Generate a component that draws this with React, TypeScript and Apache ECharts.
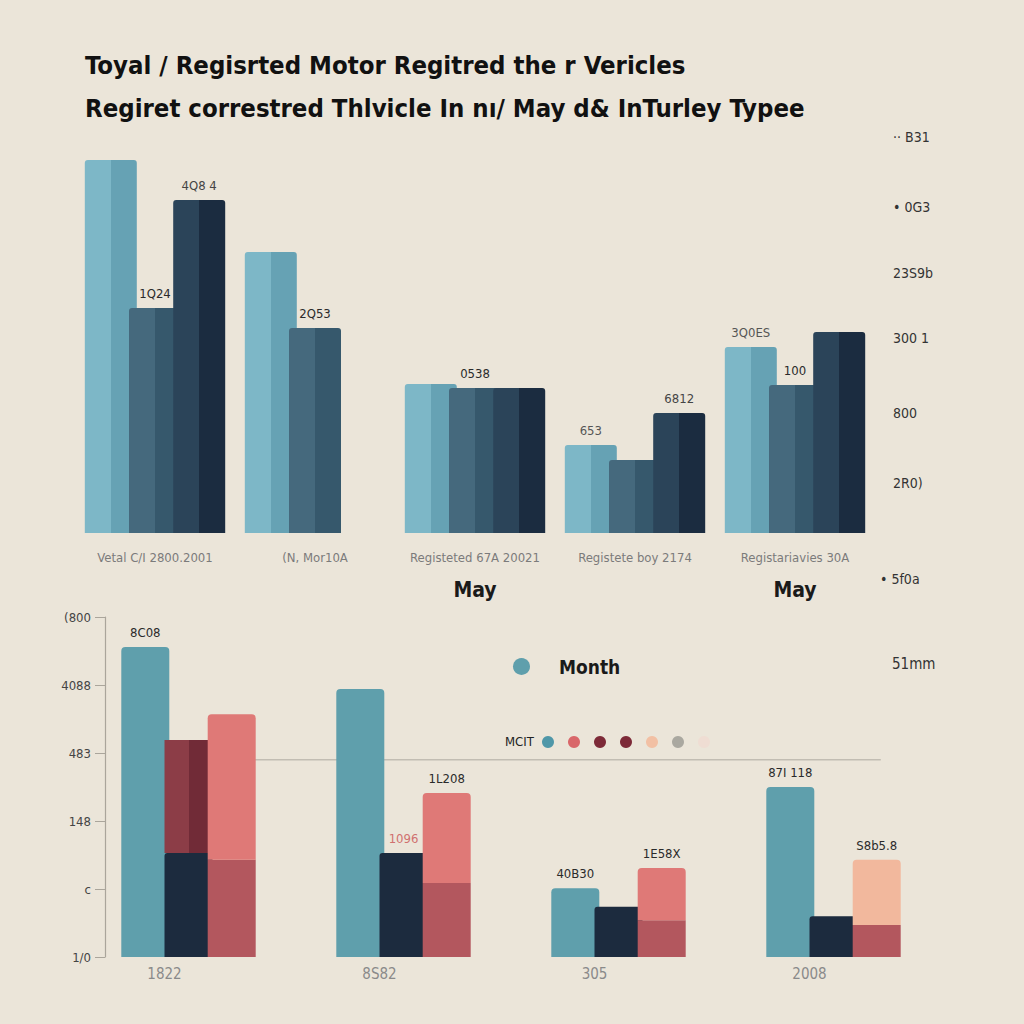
import React, { useEffect, useRef } from "react";
import * as echarts from "echarts";

// ---------- data ----------
const titleText =
  "Toyal / Regisrted Motor Regitred the r Vericles\nRegiret correstred Thlvicle In nı/ May d& InTurley Typee";

const topCategories = [
  "Vetal C/I 2800.2001",
  "(N, Mor10A",
  "Registeted 67A 20021",
  "Registete boy 2174",
  "Registariavies 30A",
];
const topSubLabels = ["", "", "May", "", "May"];
const topSeriesA = [373, 281, 149, 88, 186];
const topSeriesB = [225, 205, 145, 73, 148];
const topSeriesC: (number | null)[] = [333, null, 145, 120, 201];
const topLabelsA = ["", "", "", "653", "3Q0ES"];
const topLabelsB = ["1Q24", "2Q53", "0538", "", "100"];
const topLabelsC = ["4Q8 4", "", "", "6812", ""];
const topTickValues = [50, 120, 195, 260, 326, 396];
const topTickLabels = ["2R0)", "800", "300 1", "23S9b", "• 0G3", "·· B31"];

const bottomCategories = ["1822", "8S82", "305", "2008"];
const bottomTickLabels = ["1/0", "c", "148", "483", "4088", "(800"];
const monthTeal = [4.56, 3.94, 1.01, 2.5];
const navyBase = [1.53, 1.53, 0.74, 0.6];
const darkRedTop = [1.66, 0, 0, 0];
const roseBase = [1.43, 1.09, 0.54, 0.47];
const roseTop = [2.14, 1.32, 0.77, 0.96];
const bottomLabelsTeal = ["8C08", "", "40B30", "87I 118"];
const bottomLabelsNavy = ["", "1096", "", ""];
const bottomLabelsRose = ["", "1L208", "1E58X", "S8b5.8"];
const referenceLevel = 2.9;
const referenceSpan = [0.2, 0.93]; // fraction of the lower plot width

const legendDots = ["#4f97a8", "#d9676a", "#7d2a38", "#7d2a38", "#f2c0a4", "#aaa8a0", "#efddd3"];
const sideNotes = ["• 5f0a", "51mm"];

// ---------- helpers ----------
const split = (light: string, dark: string) =>
  new echarts.graphic.LinearGradient(0, 0, 1, 0, [
    { offset: 0, color: light },
    { offset: 0.5, color: light },
    { offset: 0.5, color: dark },
    { offset: 1, color: dark },
  ]);

const withLabels = (vals: (number | null)[], labels: string[], color = "#2a2a2a") =>
  vals.map((v, i) => ({
    value: v,
    label: labels[i]
      ? { show: true, formatter: labels[i], color, fontSize: 13, position: "top", distance: 8 }
      : { show: false },
  }));

export default function App() {
  const ref = useRef<HTMLDivElement>(null);

  useEffect(() => {
    document.body.style.margin = "0";
    const chart = echarts.init(ref.current!, undefined, { renderer: "svg" });
    const font = "'Liberation Sans Narrow', 'DejaVu Sans Condensed', 'Liberation Sans', sans-serif";

    const graphics: any[] = [
      {
        type: "text",
        left: 505,
        top: 735,
        style: { text: "MCIT", fill: "#222", font: `13px ${font}` },
      },
      ...legendDots.map((c, i) => ({
        type: "circle",
        left: 542 + i * 26,
        top: 736,
        shape: { r: 6 },
        style: { fill: c },
      })),
      {
        type: "text",
        left: 880,
        top: 572,
        style: { text: sideNotes[0], fill: "#333", font: `14px ${font}` },
      },
      {
        type: "text",
        left: 892,
        top: 656,
        style: { text: sideNotes[1], fill: "#333", font: `15px ${font}` },
      },
    ];

    chart.setOption({
      animation: false,
      backgroundColor: "#ebe5d9",
      textStyle: { fontFamily: font },
      title: {
        text: titleText,
        left: 80,
        top: 38,
        textStyle: {
          fontSize: 25.5,
          fontWeight: "bold",
          color: "#111",
          lineHeight: 43,
          fontFamily: font,
        },
      },
      legend: {
        data: ["Month"],
        left: 508,
        top: 652,
        icon: "circle",
        itemWidth: 17,
        itemHeight: 17,
        textStyle: { fontSize: 19, fontWeight: "bold", color: "#1a1a1a", padding: [0, 0, 0, 24] },
      },
      grid: [
        { left: 75, top: 133, width: 800, height: 400 },
        { left: 81, top: 617, width: 860, height: 340 },
      ],
      xAxis: [
        {
          type: "category",
          gridIndex: 0,
          data: topCategories,
          axisLine: { show: false },
          axisTick: { show: false },
          axisLabel: {
            interval: 0,
            margin: 16,
            formatter: (v: string, i: number) =>
              topSubLabels[i] ? `{base|${v}}\n{may|${topSubLabels[i]}}` : `{base|${v}}`,
            rich: {
              base: { color: "#7b7b7b", fontSize: 13, lineHeight: 16, fontFamily: font },
              may: { color: "#1a1a1a", fontSize: 21, fontWeight: "bold", lineHeight: 50, fontFamily: font },
            },
          },
        },
        {
          type: "category",
          gridIndex: 1,
          data: bottomCategories,
          axisLine: { show: false },
          axisTick: { show: false },
          axisLabel: { color: "#8a8a8a", fontSize: 15, margin: 9, padding: [0, 48, 0, 0] },
        },
        {
          type: "value",
          gridIndex: 1,
          min: 0,
          max: 1,
          show: false,
        },
      ],
      yAxis: [
        {
          type: "value",
          gridIndex: 0,
          position: "right",
          min: 0,
          max: 400,
          splitLine: { show: false },
          axisLine: { show: false },
          axisTick: { show: false },
          axisLabel: {
            customValues: topTickValues,
            margin: 18,
            color: "#333",
            fontSize: 14,
            formatter: (v: number) => {
              const k = topTickValues.indexOf(v);
              return k >= 0 ? topTickLabels[k] : "";
            },
          },
        },
        {
          type: "value",
          gridIndex: 1,
          min: 0,
          max: 5,
          interval: 1,
          offset: -24,
          splitLine: { show: false },
          axisLine: { show: true, lineStyle: { color: "#aaa59b", width: 1.2 } },
          axisTick: { show: true, length: 10, lineStyle: { color: "#aaa59b" } },
          axisLabel: {
            color: "#444",
            fontSize: 13,
            margin: 14,
            formatter: (v: number) => bottomTickLabels[Math.round(v)] ?? "",
          },
        },
      ],
      series: [
        // ---- top chart ----
        {
          name: "A",
          type: "bar",
          xAxisIndex: 0,
          yAxisIndex: 0,
          barWidth: 52,
          barGap: "-15%",
          itemStyle: { color: split("#7db7c7", "#66a2b4"), borderRadius: [3, 3, 0, 0] },
          data: withLabels(topSeriesA, topLabelsA, "#555"),
        },
        {
          name: "B",
          type: "bar",
          xAxisIndex: 0,
          yAxisIndex: 0,
          barWidth: 52,
          barGap: "-15%",
          itemStyle: { color: split("#45697d", "#36586c"), borderRadius: [3, 3, 0, 0] },
          data: withLabels(topSeriesB, topLabelsB),
        },
        {
          name: "C",
          type: "bar",
          xAxisIndex: 0,
          yAxisIndex: 0,
          barWidth: 52,
          barGap: "-15%",
          itemStyle: { color: split("#2b4459", "#1b2c40"), borderRadius: [3, 3, 0, 0] },
          data: withLabels(topSeriesC, topLabelsC, "#444"),
        },
        // ---- bottom chart ----
        {
          name: "ref",
          type: "line",
          xAxisIndex: 2,
          yAxisIndex: 1,
          z: 1,
          showSymbol: false,
          symbol: "none",
          silent: true,
          lineStyle: { color: "#c2bdb3", width: 1.5 },
          data: referenceSpan.map((x) => [x, referenceLevel]),
        },
        {
          name: "Month",
          type: "bar",
          xAxisIndex: 1,
          yAxisIndex: 1,
          barWidth: 48,
          barGap: "-10%",
          z: 3,
          itemStyle: { color: "#5f9fac", borderRadius: [4, 4, 0, 0] },
          data: withLabels(monthTeal, bottomLabelsTeal),
        },
        {
          name: "Navy",
          type: "bar",
          stack: "mid",
          xAxisIndex: 1,
          yAxisIndex: 1,
          barWidth: 48,
          barGap: "-10%",
          z: 3,
          itemStyle: { color: "#1c2b3e", borderRadius: [3, 3, 0, 0] },
          data: withLabels(navyBase, bottomLabelsNavy, "#d0706f"),
        },
        {
          name: "DarkRed",
          type: "bar",
          stack: "mid",
          xAxisIndex: 1,
          yAxisIndex: 1,
          barWidth: 48,
          barGap: "-10%",
          z: 3,
          itemStyle: { color: split("#8c3d47", "#712b37") },
          data: darkRedTop,
        },
        {
          name: "RoseBase",
          type: "bar",
          stack: "right",
          xAxisIndex: 1,
          yAxisIndex: 1,
          barWidth: 48,
          barGap: "-10%",
          z: 3,
          itemStyle: { color: "#b3575e" },
          data: roseBase,
        },
        {
          name: "RoseTop",
          type: "bar",
          stack: "right",
          xAxisIndex: 1,
          yAxisIndex: 1,
          barWidth: 48,
          barGap: "-10%",
          z: 3,
          itemStyle: { color: "#df7977", borderRadius: [4, 4, 0, 0] },
          data: roseTop.map((v, i) => ({
            value: v,
            itemStyle: i === 3 ? { color: "#f2b89d" } : undefined,
            label: bottomLabelsRose[i]
              ? { show: true, formatter: bottomLabelsRose[i], color: "#2a2a2a", fontSize: 13, position: "top", distance: 8 }
              : { show: false },
          })),
        },
      ],
      graphic: graphics,
    });

    return () => chart.dispose();
  }, []);

  return <div ref={ref} style={{ width: 1024, height: 1024 }} />;
}
